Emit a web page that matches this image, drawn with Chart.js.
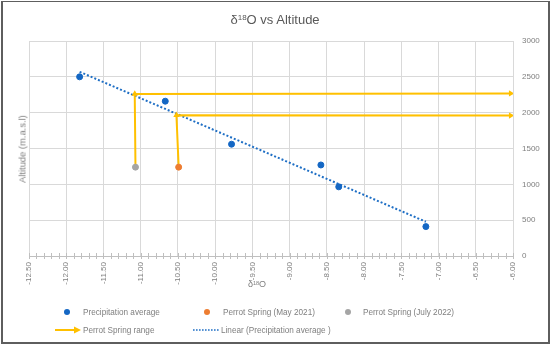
<!DOCTYPE html>
<html><head><meta charset="utf-8">
<script src="https://cdn.jsdelivr.net/npm/chart.js@4/dist/chart.umd.min.js"></script>
<style>
html,body{margin:0;padding:0;background:#fff;}
#wrap{position:relative;width:550px;height:346px;overflow:hidden;font-family:"Liberation Sans",Arial,sans-serif;}
#c{position:absolute;left:0;top:0;}
#frame{position:absolute;left:1px;top:1px;width:545px;height:340px;border:2px solid #5e5e5e;border-top-width:1px;pointer-events:none;}
.t{position:absolute;color:#595959;white-space:nowrap;}
#title{left:0;width:550px;top:12px;text-align:center;font-size:13px;}
#ytitle{left:22px;top:149px;font-size:9.4px;color:#7f7f7f;transform:translate(-50%,-50%) rotate(-90deg);}
#xtitle{left:257px;top:284px;font-size:9px;color:#7f7f7f;transform:translate(-50%,-50%);}
sup{font-size:0.62em;vertical-align:0;position:relative;top:-0.45em;}
.lg{position:absolute;font-size:8.2px;color:#7f7f7f;transform:translateY(-50%);white-space:nowrap;}
.dot{position:absolute;width:6px;height:6px;border-radius:50%;transform:translate(-50%,-50%);}
</style></head>
<body><div id="wrap">
<canvas id="c" width="550" height="346"></canvas>
<div class="t" id="title">δ<sup>18</sup>O vs Altitude</div>
<div class="t" id="ytitle">Altitude (m.a.s.l)</div>
<div class="t" id="xtitle">δ<sup>18</sup>O</div>
<div class="dot" style="left:67px;top:312px;background:#1467c4"></div>
<div class="lg" style="left:83px;top:312px">Precipitation average</div>
<div class="dot" style="left:207px;top:312px;background:#ed7d31"></div>
<div class="lg" style="left:223px;top:312px">Perrot Spring (May 2021)</div>
<div class="dot" style="left:348px;top:312px;background:#a5a5a5"></div>
<div class="lg" style="left:363px;top:312px">Perrot Spring (July 2022)</div>
<svg style="position:absolute;left:54px;top:326px" width="30" height="8"><line x1="1" y1="4" x2="22" y2="4" stroke="#ffc000" stroke-width="2"/><polygon points="20,0.5 27,4 20,7.5" fill="#ffc000"/></svg>
<div class="lg" style="left:83px;top:330px">Perrot Spring range</div>
<svg style="position:absolute;left:193px;top:326px" width="28" height="8"><line x1="0" y1="4" x2="27" y2="4" stroke="#1f6fc5" stroke-width="1.6" stroke-dasharray="1.6,1.4"/></svg>
<div class="lg" style="left:221px;top:330px">Linear (Precipitation average )</div>
<div id="frame"></div>
</div>
<script>
// Data
const precipX = [-11.82, -10.67, -9.78, -8.58, -8.34, -7.17];
const precipY = [2500, 2160, 1560, 1270, 965, 410];
const maySpring = [-10.49, 1240];
const julySpring = [-11.07, 1240];
// Perrot Spring range arrows: start, corner, end
const rangeJulyX = [-11.07, -11.08, -6.03];
const rangeJulyY = [1240, 2262, 2268];
const rangeMayX = [-10.49, -10.52, -6.03];
const rangeMayY = [1240, 1965, 1960];
// Linear trendline endpoints
const trendX = [-11.82, -7.17];
const trendY = [2570, 478];
const xTicksMin = -12.5, xTicksMax = -6, xStep = 0.5;
const yMin = 0, yMax = 3000, yStep = 500;

const pts = (xs, ys) => xs.map((x, i) => ({x, y: ys[i]}));

const minorTicks = {
  id: 'minorTicks',
  afterDraw(chart) {
    const xs = chart.scales.x, ctx = chart.ctx;
    const yb = chart.chartArea.bottom;
    ctx.save();
    ctx.strokeStyle = '#bfbfbf';
    ctx.lineWidth = 1;
    const n = Math.round((xTicksMax - xTicksMin) / 0.1);
    for (let i = 0; i <= n; i++) {
      const px = Math.round(xs.getPixelForValue(xTicksMin + i * 0.1)) + 0.5;
      ctx.beginPath();
      ctx.moveTo(px, yb - 3);
      ctx.lineTo(px, yb + 3);
      ctx.stroke();
    }
    ctx.restore();
  }
};

const yellow = '#ffc000';
new Chart(document.getElementById('c'), {
  type: 'scatter',
  data: {
    datasets: [
      { label: 'Linear (Precipitation average )', data: pts(trendX, trendY), showLine: true,
        borderColor: '#1f6fc5', borderWidth: 2, borderDash: [2, 2], pointRadius: 0, order: 3 },
      { label: 'Perrot Spring range', data: pts(rangeJulyX, rangeJulyY), showLine: true,
        borderColor: yellow, borderWidth: 2, backgroundColor: yellow,
        pointStyle: 'triangle', pointRadius: [0, 3.6, 3.6], pointRotation: [0, 0, 90],
        pointBorderWidth: 0, order: 2 },
      { label: 'Perrot Spring range 2', data: pts(rangeMayX, rangeMayY), showLine: true,
        borderColor: yellow, borderWidth: 2, backgroundColor: yellow,
        pointStyle: 'triangle', pointRadius: [0, 3.6, 3.6], pointRotation: [0, 0, 90],
        pointBorderWidth: 0, order: 2 },
      { label: 'Precipitation average', data: pts(precipX, precipY),
        backgroundColor: '#1467c4', borderColor: '#1467c4', pointRadius: 3, order: 1 },
      { label: 'Perrot Spring (May 2021)', data: [{x: maySpring[0], y: maySpring[1]}],
        backgroundColor: '#ed7d31', borderColor: '#ed7d31', pointRadius: 3, order: 0 },
      { label: 'Perrot Spring (July 2022)', data: [{x: julySpring[0], y: julySpring[1]}],
        backgroundColor: '#a5a5a5', borderColor: '#a5a5a5', pointRadius: 3, order: 0 }
    ]
  },
  options: {
    responsive: false,
    animation: false,
    layout: { padding: { left: 29, top: 41, right: 0, bottom: 0 } },
    plugins: { legend: { display: false }, tooltip: { enabled: false }, title: { display: false } },
    scales: {
      x: {
        type: 'linear', position: 'bottom', min: xTicksMin, max: xTicksMax,
        afterFit(s) { s.height = 90; },
        ticks: { stepSize: xStep, autoSkip: false, minRotation: 90, maxRotation: 90,
          callback: v => Number(v).toFixed(2), color: '#7f7f7f', padding: 6,
          font: { family: 'Liberation Sans', size: 8 } },
        grid: { color: '#d9d9d9', drawTicks: false },
        border: { color: '#bfbfbf' }
      },
      y: {
        type: 'linear', position: 'right', min: yMin, max: yMax,
        afterFit(s) { s.width = 37; },
        ticks: { stepSize: yStep, color: '#7f7f7f', padding: 9,
          callback: v => String(v),
          font: { family: 'Liberation Sans', size: 8 } },
        grid: { color: '#d9d9d9', drawTicks: false },
        border: { color: '#d9d9d9' }
      }
    }
  },
  plugins: [minorTicks]
});
</script>
</body></html>
